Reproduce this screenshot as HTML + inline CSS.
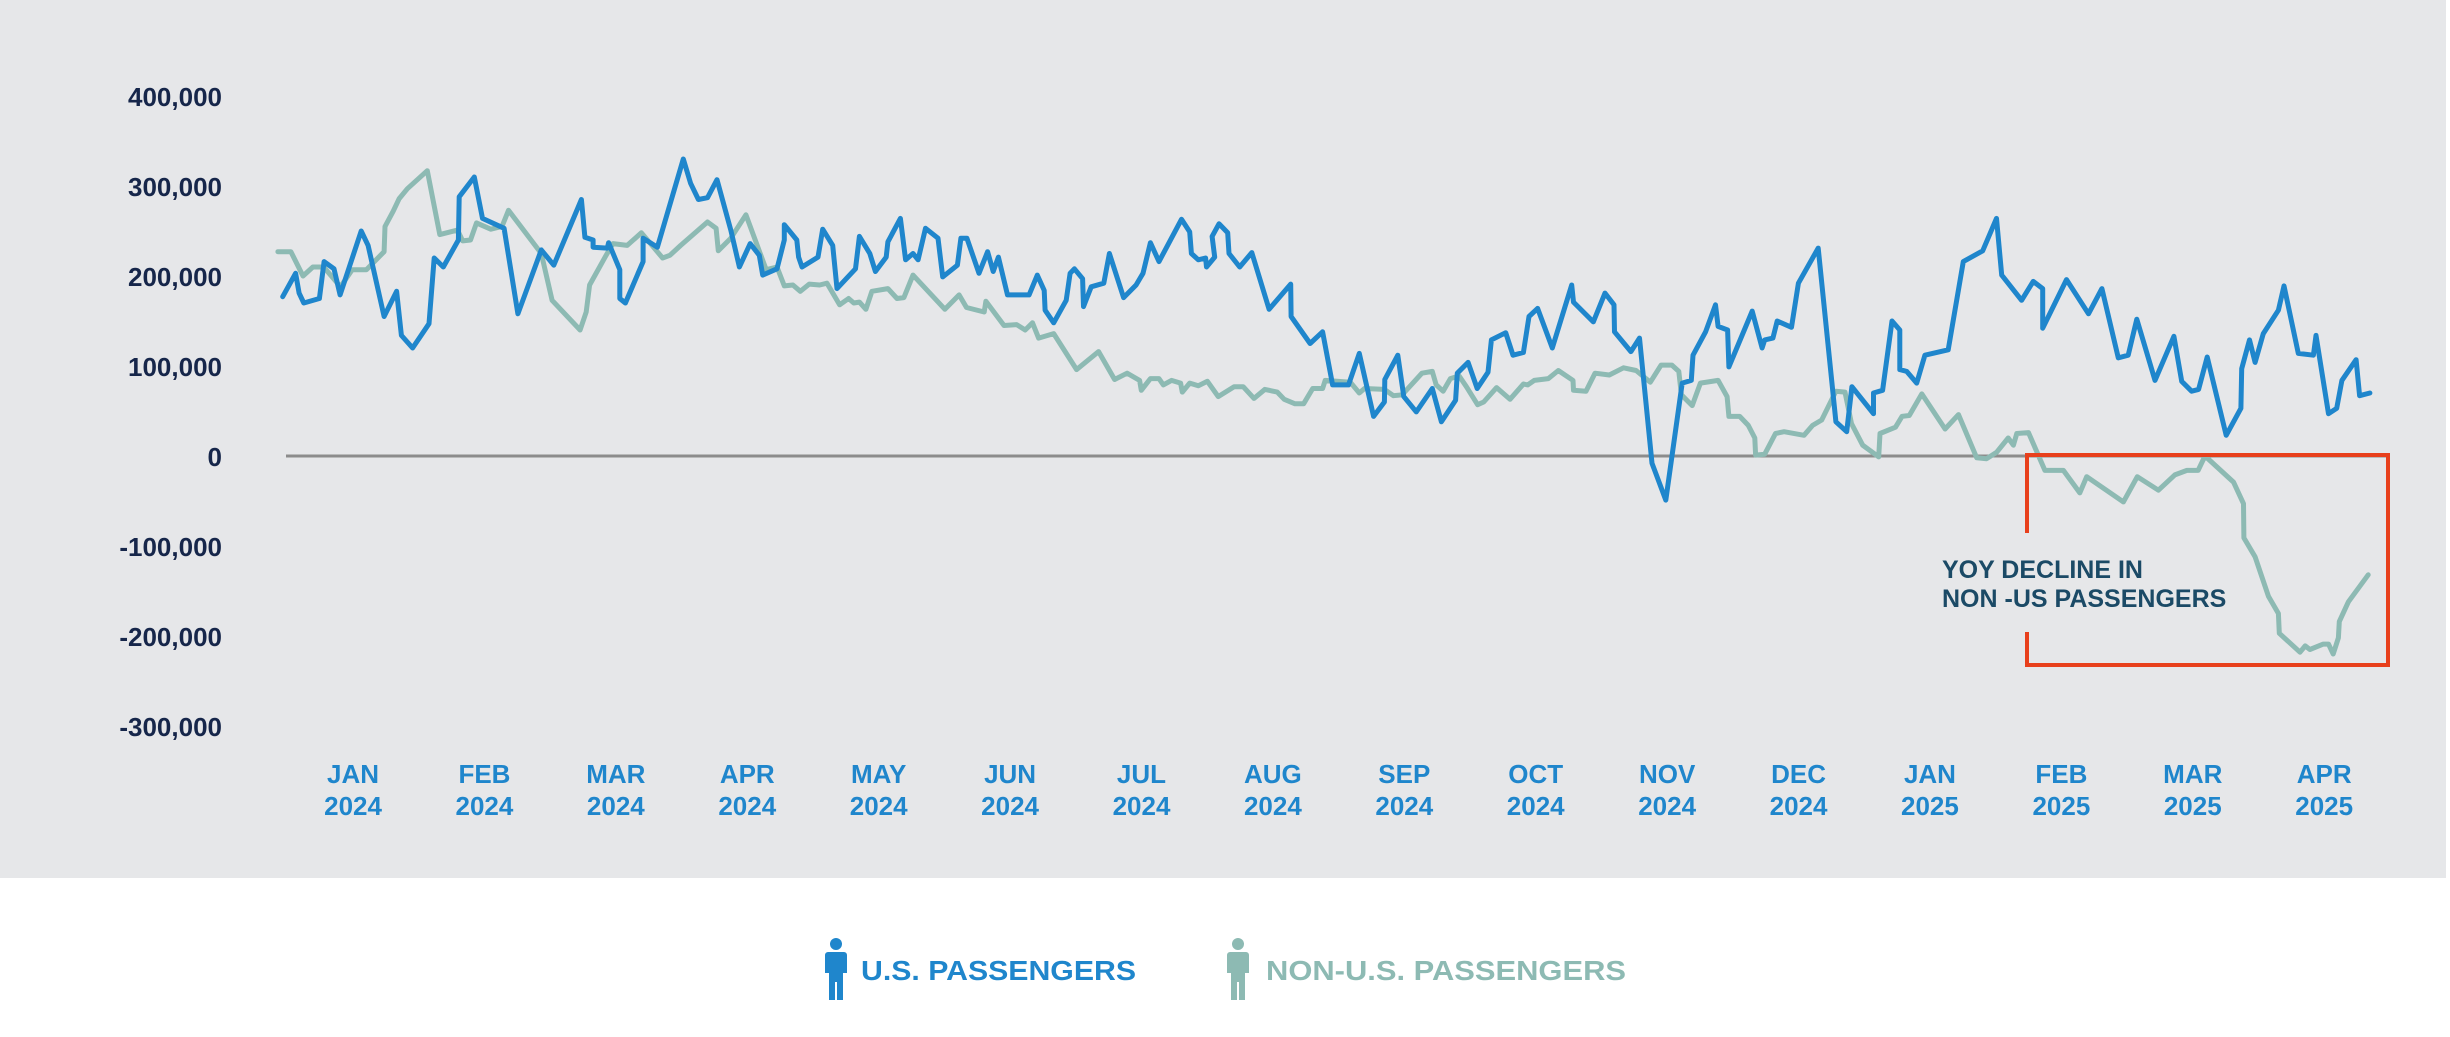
<!DOCTYPE html>
<html><head><meta charset="utf-8">
<style>
html,body{margin:0;padding:0;background:#fff;}
body{width:2450px;height:1032px;overflow:hidden;font-family:"Liberation Sans",sans-serif;}
svg text{font-family:"Liberation Sans",sans-serif;font-weight:bold;}
</style></head>
<body>
<svg id="chart" width="2450" height="1032" viewBox="0 0 2450 1032" xmlns="http://www.w3.org/2000/svg">
<rect x="0" y="0" width="2446" height="878" fill="#e6e7e9"/>
<g id="yaxis"></g>
<g id="xaxis"></g>
<line x1="286" y1="456" x2="2390" y2="456" stroke="#8c8c8c" stroke-width="3"/>
<g id="series"></g>
<g fill="none" stroke="#e8401c" stroke-width="4">
<polyline points="2027,533 2027,455 2388,455 2388,665 2027,665 2027,632"/>
</g>
<text x="1942" y="578" fill="#1b4a66" font-size="25" style="font-family:'Liberation Sans Narrow','Liberation Sans',sans-serif">YOY DECLINE IN</text>
<text x="1942" y="607" fill="#1b4a66" font-size="25" style="font-family:'Liberation Sans Narrow','Liberation Sans',sans-serif">NON -US PASSENGERS</text>
<g>
<g fill="#1f86cc">
<circle cx="836" cy="944" r="6"/>
<path d="M828,952 h16 a3,3 0 0 1 3,3 v18 h-4 v27 h-6 v-18 h-2 v18 h-6 v-27 h-4 v-18 a3,3 0 0 1 3,-3z"/>
<text x="861" y="980" font-size="28" textLength="275" lengthAdjust="spacingAndGlyphs">U.S. PASSENGERS</text>
</g>
<g fill="#8dbab3">
<circle cx="1238" cy="944" r="6"/>
<path d="M1230,952 h16 a3,3 0 0 1 3,3 v18 h-4 v27 h-6 v-18 h-2 v18 h-6 v-27 h-4 v-18 a3,3 0 0 1 3,-3z"/>
<text x="1266" y="980" font-size="28" textLength="360" lengthAdjust="spacingAndGlyphs">NON-U.S. PASSENGERS</text>
</g>
</g>
</svg>
<script>
const yTicks=[400,300,200,100,0,-100,-200,-300];
const yTickLabels=["400,000","300,000","200,000","100,000","0","-100,000","-200,000","-300,000"];
const monthLabels=["JAN","FEB","MAR","APR","MAY","JUN","JUL","AUG","SEP","OCT","NOV","DEC","JAN","FEB","MAR","APR"];
const yearLabels=["2024","2024","2024","2024","2024","2024","2024","2024","2024","2024","2024","2024","2025","2025","2025","2025"];
const usDays=[-2.3,0.7,1.5,2.6,6.2,7.3,9.6,11.0,15.9,17.5,21.2,24.1,25.2,27.8,31.6,32.8,34.9,38.4,38.6,42.1,44.0,49.0,52.2,57.6,60.5,66.9,67.7,69.6,69.6,72.9,73.2,75.8,75.8,77.1,81.2,81.2,84.5,90.5,92.2,94.0,96.1,98.3,101.5,103.5,106.0,108.1,108.9,112.2,113.9,113.9,116.8,117.2,118.0,121.7,122.8,125.1,126.1,130.4,131.3,133.7,135.0,137.5,137.9,140.8,142.0,143.7,144.9,146.6,149.5,150.6,154.0,154.8,156.2,159.0,161.0,162.3,163.5,165.6,170.6,172.5,174.1,174.3,176.3,179.2,180.1,181.1,183.0,183.2,185.0,187.9,189.2,192.5,195.4,197.0,198.7,200.7,205.9,207.8,208.2,209.8,211.5,211.7,213.6,213.0,214.6,216.6,216.9,219.4,222.2,226.2,231.2,231.3,235.7,238.6,240.9,244.6,247.1,250.4,252.9,253.0,256.0,257.4,260.3,264.0,266.1,269.4,269.8,272.3,274.4,276.9,277.7,281.0,282.7,285.1,286.4,288.4,291.8,296.3,296.7,301.3,304.0,306.1,306.2,310.0,312.0,314.9,318.1,321.9,324.0,324.4,327.3,329.6,330.2,332.4,332.7,338.1,340.4,341.0,342.9,343.9,347.2,348.8,353.4,357.5,360.0,361.2,366.2,366.2,368.3,370.5,372.3,372.3,373.9,376.2,378.1,383.5,387.0,391.5,394.7,395.9,400.5,403.2,405.4,405.4,410.9,416.0,419.1,422.9,425.2,427.2,431.4,435.8,437.6,439.9,441.5,443.5,447.9,451.3,451.5,453.3,454.6,456.5,460.0,461.3,464.6,468.1,468.7,471.6,473.5,474.7,478.0,478.8,481.2];
const usValues=[177,203,181,170,175,216,208,179,250,234,155,183,134,120,147,220,210,240,288,310,264,253,158,229,212,285,243,240,232,231,237,207,175,170,216,242,232,330,303,285,287,307,251,210,236,223,201,208,240,257,240,221,210,221,252,234,186,208,244,225,205,221,238,264,218,225,218,253,242,199,212,242,242,203,227,205,221,179,179,201,184,162,148,173,203,208,197,166,188,192,225,176,190,203,237,216,263,249,225,218,220,210,221,244,258,248,225,210,226,163,191,155,125,138,79,79,114,44,60,85,112,66,49,75,38,62,92,104,75,93,129,137,112,115,155,164,120,190,171,149,181,168,138,116,131,-8,-49,81,84,112,138,168,144,140,99,161,120,129,131,150,143,192,231,38,27,77,47,70,73,150,140,96,94,81,112,118,216,228,264,201,173,194,186,142,196,158,186,109,112,152,84,133,83,72,74,110,23,53,97,129,104,136,162,189,114,112,134,47,53,84,107,67,70];
const nonUsDays=[-3.4,-0.4,2.4,4.7,7.2,11.1,13.8,17.1,21.2,21.4,23.3,24.7,26.6,31.2,34.1,38.2,39.4,41.2,42.6,45.9,48.5,50.0,57.6,60.1,66.6,68.0,68.8,72.5,74.2,77.5,80.8,85.7,87.4,89.9,96.1,98.1,98.6,101.5,105.0,109.7,112.2,113.9,115.9,117.6,119.7,122.1,123.8,126.7,128.8,130.0,131.3,132.8,134.2,137.9,140.0,141.6,143.7,151.1,154.4,156.1,160.2,160.6,164.8,167.7,169.7,171.4,172.8,176.3,181.6,186.7,190.4,193.3,196.2,196.6,198.7,200.7,201.7,203.6,205.7,206.1,207.8,209.8,211.9,214.4,218.1,220.2,222.7,225.2,228.1,229.7,232.2,234.2,236.3,238.6,239.2,245.0,247.1,248.3,252.9,255.0,257.0,259.5,261.6,264.0,264.9,266.5,268.2,270.2,271.9,274.5,275.9,278.9,282.0,285.1,286.1,287.6,290.9,293.2,296.6,296.7,299.6,301.7,305.0,308.3,311.2,314.5,317.0,319.5,321.1,321.7,324.2,326.1,330.2,332.3,332.7,335.2,337.2,338.7,338.9,341.0,343.5,345.5,350.1,352.1,354.2,357.5,359.6,361.1,363.7,367.4,367.7,371.3,372.8,374.5,377.4,382.8,385.9,390.1,392.4,394.7,397.4,398.6,399.4,402.1,405.9,410.2,414.0,415.6,424.1,427.3,432.2,436.0,438.8,441.4,443.0,449.6,451.9,452.0,454.6,457.7,460.0,460.2,465.0,466.2,467.3,470.4,471.6,472.7,473.9,474.1,476.2,480.8];
const nonUsValues=[227,227,200,210,210,188,207,207,227,255,272,286,297,317,246,251,239,240,259,252,255,273,225,173,140,160,190,222,236,234,248,220,223,234,260,253,228,242,268,207,210,189,190,183,191,190,192,168,175,170,171,163,183,186,175,176,201,163,179,165,160,172,145,146,140,148,131,136,96,116,85,92,84,73,86,86,79,84,81,71,81,78,83,66,77,77,64,74,71,63,58,58,75,75,84,82,70,75,74,67,68,81,92,94,79,72,86,89,77,57,60,76,63,80,79,84,86,95,84,73,72,92,90,98,95,82,101,101,94,68,56,81,84,66,44,44,34,20,1,2,25,27,23,34,40,72,71,36,12,-1,25,32,44,45,69,30,46,-2,-3,4,20,12,25,26,-16,-16,-41,-23,-51,-23,-38,-21,-16,-16,0,-29,-53,-91,-112,-156,-175,-197,-218,-211,-215,-209,-209,-220,-202,-184,-162,-132];

const NS="http://www.w3.org/2000/svg";
const X0=292.6, PXDAY=4.317, Y0=456, PXK=0.9;
function xScale(d){return X0+d*PXDAY;}
function yScale(v){return Y0-v*PXK;}
function mk(tag,attrs){const e=document.createElementNS(NS,tag);for(const k in attrs)e.setAttribute(k,attrs[k]);return e;}

const ya=document.getElementById('yaxis');
yTicks.forEach((t,i)=>{
  const tx=mk('text',{x:222,y:yScale(t)+10,'text-anchor':'end','font-size':26,fill:'#16264a'});
  
  
  tx.textContent=yTickLabels[i];ya.appendChild(tx);
});
const xa=document.getElementById('xaxis');
monthLabels.forEach((m,i)=>{
  const cx=xScale(14+i*30.44);
  const t1=mk('text',{x:cx,y:783,'text-anchor':'middle','font-size':26,fill:'#1f86cc'});
  
  
  t1.textContent=m;xa.appendChild(t1);
  const t2=mk('text',{x:cx,y:815,'text-anchor':'middle','font-size':26,fill:'#1f86cc'});
  
  
  t2.textContent=yearLabels[i];xa.appendChild(t2);
});
const sg=document.getElementById('series');
function line(days,vals,color,name){
  const pts=days.map((d,i)=>xScale(d).toFixed(1)+','+yScale(vals[i]).toFixed(1)).join(' ');
  const p=mk('polyline',{points:pts,fill:'none',stroke:color,'stroke-width':5,'stroke-linejoin':'round','stroke-linecap':'round'});
  
  
  sg.appendChild(p);
}
line(nonUsDays,nonUsValues,'#8dbab3','non-us-passengers-line');
line(usDays,usValues,'#1f86cc','us-passengers-line');
</script>
</body></html>
